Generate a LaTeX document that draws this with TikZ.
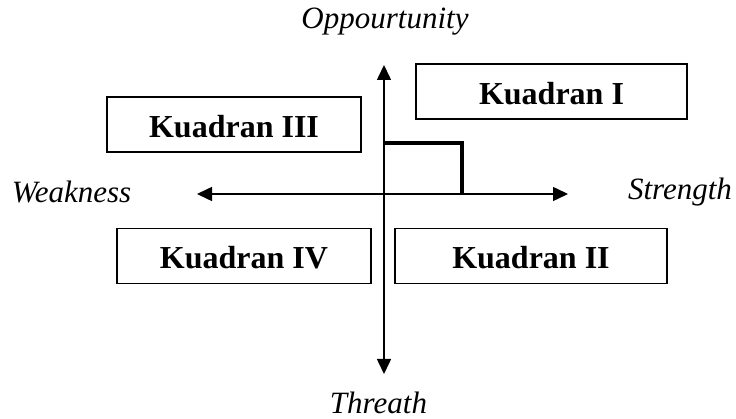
\documentclass[tikz,border=0pt]{standalone}
\usepackage{fontspec}
\setmainfont{Liberation Serif}
\usetikzlibrary{arrows.meta}

\tikzset{
	kuadran/.style = {draw, line width=1.5pt, minimum width=#1, minimum height=55pt, inner sep=0pt,
		text height=26pt, text depth=0pt, font=\fontsize{32}{36}\selectfont\bfseries},
	label/.style = {font=\fontsize{31}{36}\selectfont\itshape, inner sep=0pt},
	axis/.style = {line width=1.5pt, {Triangle[length=15pt,width=14pt]}-{Triangle[length=15pt,width=14pt]}}
}

\begin{document}
\begin{tikzpicture}[x=1pt,y=-1pt]
	\useasboundingbox (0,0) rectangle (736,419);
	% ends of the two axes
	\coordinate (top) at (384,65);
	\coordinate (bottom) at (384,374);
	\coordinate (left) at (197,194);
	\coordinate (right) at (568,194);
	\draw [axis] (bottom) -- (top);
	\draw [axis] (left) -- (right);
	% the four boxes
	\node [kuadran=271pt] (k1) at (551.5,91.5) {Kuadran I};
	\node [kuadran=272pt] (k2) at (531,256) {Kuadran II};
	\node [kuadran=254pt] (k3) at (234,124.5) {Kuadran III};
	\node [kuadran=254pt] (k4) at (244,256) {Kuadran IV};
	% axis labels
	\node [label] (opp) at (385,22) {Oppourtunity};
	\node [label] (thr) at (378.5,403) {Threath};
	\node [label] (weak) at (71.5,192) {Weakness};
	\node [label] (str) at (680,192) {Strength};
	% position
	\coordinate (p1) at (384,143);
	\coordinate (p2) at (462,143);
	\coordinate (p3) at (462,195);
	\draw [line width=4.5pt] (p1) -- (p2) -- (p3);
\end{tikzpicture}
\end{document}
